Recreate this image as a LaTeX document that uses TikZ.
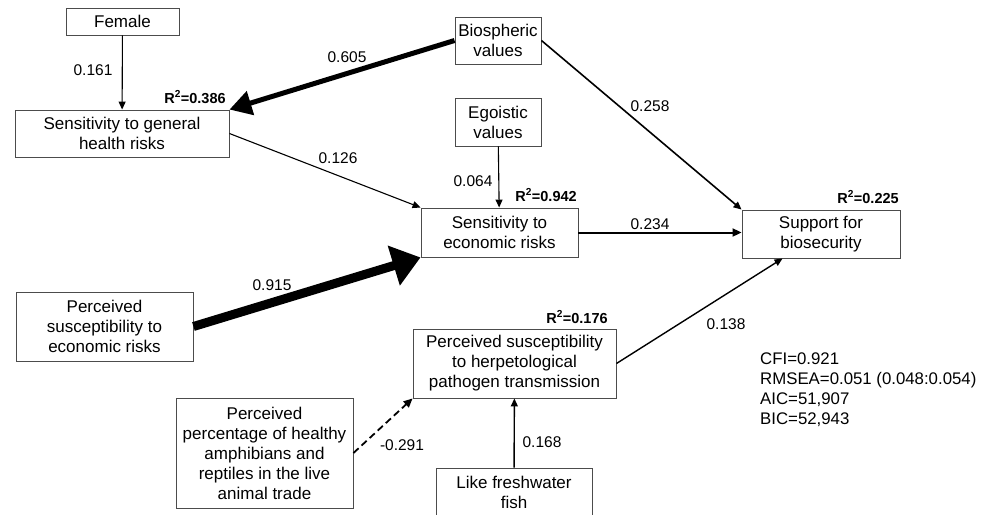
\documentclass[tikz,border=0pt]{standalone}
\usepackage{fontspec}
\setmainfont{Liberation Sans}
\usetikzlibrary{arrows.meta}
\begin{document}
\begin{tikzpicture}[x=1pt,y=-1pt,
  box/.style={draw=black!70, line width=0.9pt, align=center, inner sep=0pt,
    font=\fontsize{17}{20}\selectfont},
  lab/.style={inner sep=0pt, font=\fontsize{15.5}{18}\selectfont},
  rsq/.style={inner sep=0pt, font=\fontsize{14.5}{17}\selectfont\bfseries},
  stats/.style={inner sep=0pt, align=left, anchor=north west, font=\fontsize{16.8}{20}\selectfont},
  thinarr/.style={line width=1.1pt, -{Triangle[length=8pt,width=7pt]}},
  medarr/.style={line width=2pt, -{Triangle[length=9pt,width=8pt]}},
  bigarr/.style={line width=5pt, -{Triangle[length=22pt,width=24pt]}},
  hugearr/.style={line width=9pt, -{Triangle[length=28pt,width=40pt]}},
  dasharr/.style={line width=1.8pt, dash pattern=on 7pt off 4pt, -{Triangle[length=9pt,width=8pt]}}
]
\useasboundingbox (0,0) rectangle (990,514);
\clip (0,0) rectangle (990,514);
% boxes
\node[box, minimum width=113, minimum height=27] (fem) at (122.5,21.5) {Female};
\node[box, minimum width=214, minimum height=47] (health) at (122,133.5) {Sensitivity to general\\health risks};
\node[box, minimum width=86, minimum height=47] (bio) at (498,40.5) {Biospheric\\values};
\node[box, minimum width=86, minimum height=48] (ego) at (498,122) {Egoistic\\values};
\node[box, minimum width=157, minimum height=49] (econ) at (499.5,232.5) {Sensitivity to\\economic risks};
\node[box, minimum width=158, minimum height=48] (sup) at (821,234) {Support for\\biosecurity};
\node[box, minimum width=177, minimum height=69] (pse) at (104.5,326.5) {Perceived\\susceptibility to\\economic risks};
\node[box, minimum width=203, minimum height=69] (herp) at (514.5,363.5) {Perceived susceptibility\\to herpetological\\pathogen transmission};
\node[box, minimum width=177, minimum height=110] (pct) at (264.5,453) {Perceived\\percentage of healthy\\amphibians and\\reptiles in the live\\animal trade};
\node[box, minimum width=156, minimum height=49] (fish) at (514,492.5) {Like freshwater\\fish};
% R squared labels
\node[rsq] (r1) at (195,97) {R\textsuperscript{2}=0.386};
\node[rsq] (r2) at (546,195) {R\textsuperscript{2}=0.942};
\node[rsq] (r3) at (868,197) {R\textsuperscript{2}=0.225};
\node[rsq] (r4) at (577,317) {R\textsuperscript{2}=0.176};
% coefficient labels
\node[lab] (l1) at (93,70) {0.161};
\node[lab] (l2) at (347,57) {0.605};
\node[lab] (l3) at (338,158) {0.126};
\node[lab] (l4) at (473,181) {0.064};
\node[lab] (l5) at (650,106) {0.258};
\node[lab] (l6) at (650,224) {0.234};
\node[lab] (l7) at (272,285) {0.915};
\node[lab] (l8) at (402,445) {-0.291};
\node[lab] (l9) at (542,442) {0.168};
\node[lab] (l10) at (726,324) {0.138};
% fit statistics
\node[stats] (fit) at (760,353) {CFI=0.921\\RMSEA=0.051 (0.048:0.054)\\AIC=51,907\\BIC=52,943};
% connectors
\draw[thinarr] (fem) -- (health);
\draw[bigarr] (bio.west) -- (health.north east);
\draw[thinarr] (health.east) -- (econ.north west);
\draw[thinarr] (ego) -- (econ);
\draw[thinarr, line width=1.6pt] (bio.east) -- (sup.north west);
\draw[medarr] (econ.east) -- (econ.east -| sup.west);
\draw[hugearr] (pse.east) -- (econ.south west);
\draw[thinarr, line width=1.4pt] (herp.east) -- ([xshift=41pt]sup.south west);
\draw[dasharr] (pct.east) -- (herp.south west);
\draw[thinarr, line width=1.4pt] (fish) -- (herp);
\end{tikzpicture}
\end{document}
